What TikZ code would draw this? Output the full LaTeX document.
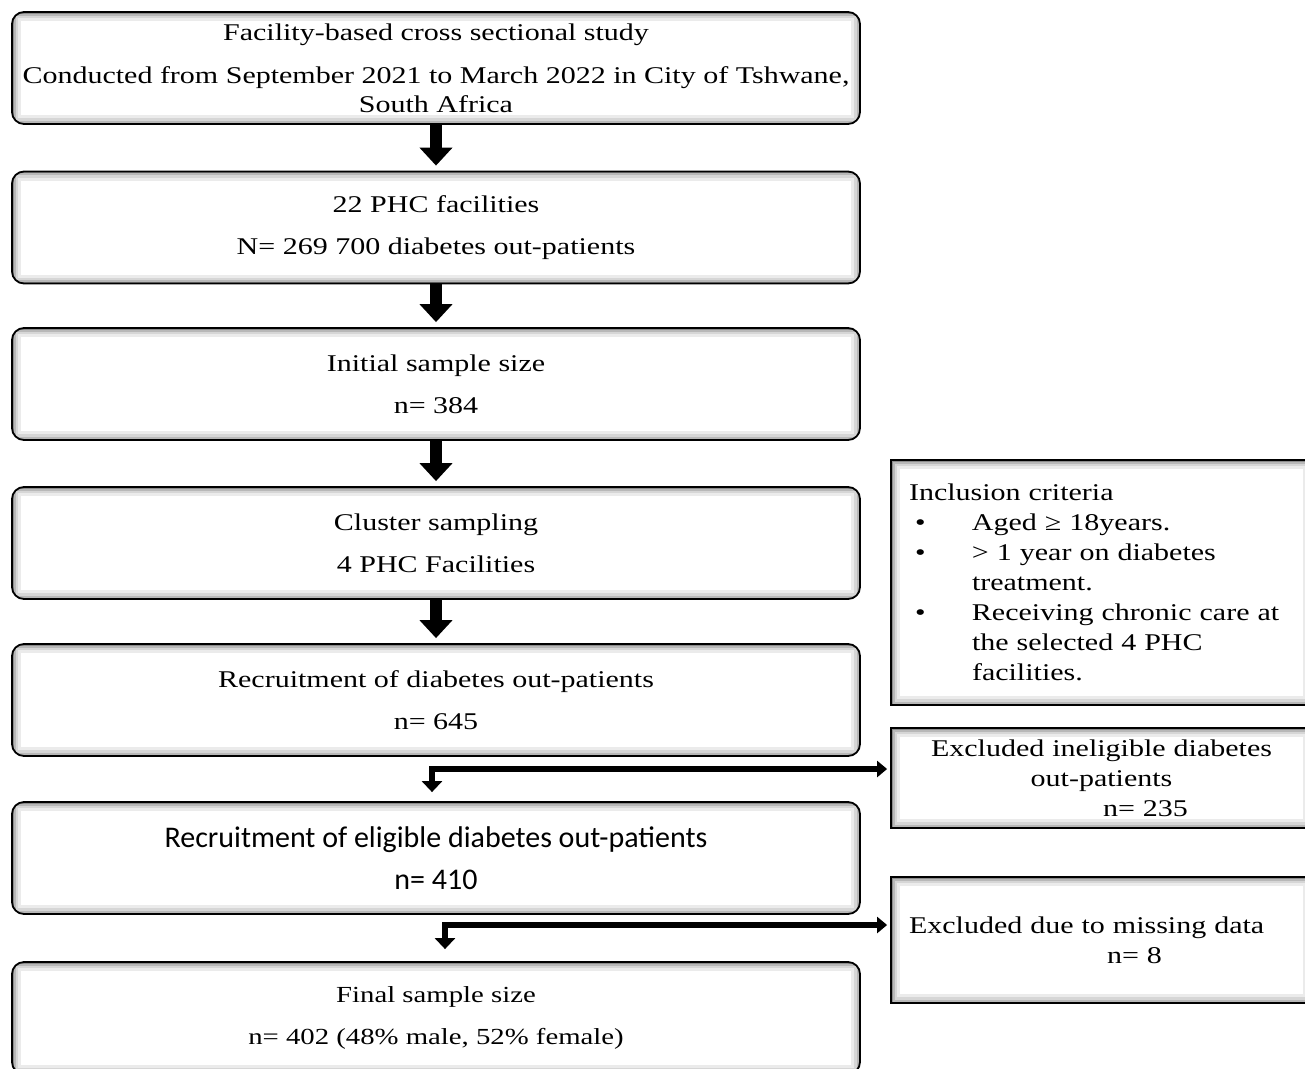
\documentclass[tikz,border=0pt]{standalone}
\usepackage{fontspec}
\setmainfont{Liberation Serif}[FakeStretch=1.25]
\newfontfamily\carl{Carlito}
\usetikzlibrary{arrows.meta,calc}
\tikzset{
  inshadow/.style={path picture={
    \foreach \w/\c in {18/8,12/16,7/28,3/45}
      \draw[line width=\w pt, black!\c, sharp corners]
        (path picture bounding box.south west) rectangle (path picture bounding box.north east);}},
  mainbox/.style={draw, line width=1.8pt, rounded corners=12pt, minimum width=848pt,
    minimum height=112pt, align=center, inner sep=0pt, fill=white, inshadow,
    font=\fontsize{24}{29}\selectfont},
  sidebox/.style={draw, line width=1.8pt, minimum width=421pt, text width=385pt,
    inner xsep=18pt, inner ysep=0pt, fill=white, inshadow,
    font=\fontsize{24}{30}\selectfont},
  bigarrow/.style={line width=12pt, -{Triangle[width=32pt,length=18pt]}, shorten <=0pt, shorten >=5pt},
  elbow/.style={line width=6pt, line join=miter,
    {Triangle[width=20pt,length=11pt]}-{Triangle[width=16pt,length=10pt]}},
}
\begin{document}
\begin{tikzpicture}[x=1pt,y=-1pt]
\useasboundingbox (0,0) rectangle (1305,1068);
\node[mainbox] (b1) at (436,68) {Facility-based cross sectional study\\[14pt]Conducted from September 2021 to March 2022 in City of Tshwane,\\South Africa};
\node[mainbox] (b2) at (436,227.5) {22 PHC facilities\\[13pt]N= 269 700 diabetes out-patients};
\node[mainbox] (b3) at (436,384) {Initial sample size\\[13pt]n= 384};
\node[mainbox] (b4) at (436,543) {Cluster sampling\\[13pt]4 PHC Facilities};
\node[mainbox] (b5) at (436,700) {Recruitment of diabetes out-patients\\[13pt]n= 645};
\node[mainbox, font=\carl\fontsize{30}{29}\selectfont] (b6) at (436,858) {Recruitment of eligible diabetes out-patients\\[13pt]n= 410};
\node[mainbox, font=\fontsize{23}{29}\selectfont] (b7) at (436,1018) {Final sample size\\[13pt]n= 402 (48\% male, 52\% female)};

\node[sidebox, minimum height=245pt, align=left] (inc) at (1101.5,582.5) {Inclusion criteria\\
\hspace*{6pt}\makebox[57pt][l]{•}Aged ≥ 18years.\\
\hspace*{6pt}\makebox[57pt][l]{•}> 1 year on diabetes\\
\hspace*{63pt}treatment.\\
\hspace*{6pt}\makebox[57pt][l]{•}Receiving chronic care at\\
\hspace*{63pt}the selected 4 PHC\\
\hspace*{63pt}facilities.};
\node[sidebox, minimum height=100pt, align=center] (ex1) at (1101.5,778) {Excluded ineligible diabetes\\out-patients\\\hspace*{88pt}n= 235};
\node[sidebox, minimum height=126pt, align=left] (ex2) at (1101.5,940) {Excluded due to missing data\\\hspace*{198pt}n= 8\\[28pt]};

\draw[bigarrow] (b1.south) -- (b2.north);
\draw[bigarrow] (b2.south) -- (b3.north);
\draw[bigarrow] (b3.south) -- (b4.north);
\draw[bigarrow] (b4.south) -- (b5.north);

\coordinate (j1) at (432,769);
\coordinate (j2) at (445,925);
\draw[elbow, shorten <=9pt, shorten >=3pt] (j1 |- b6.north) -- (j1) -- (j1 -| ex1.west);
\draw[elbow, shorten <=12pt, shorten >=3pt] (j2 |- b7.north) -- (j2) -- (j2 -| ex2.west);
\end{tikzpicture}
\end{document}
